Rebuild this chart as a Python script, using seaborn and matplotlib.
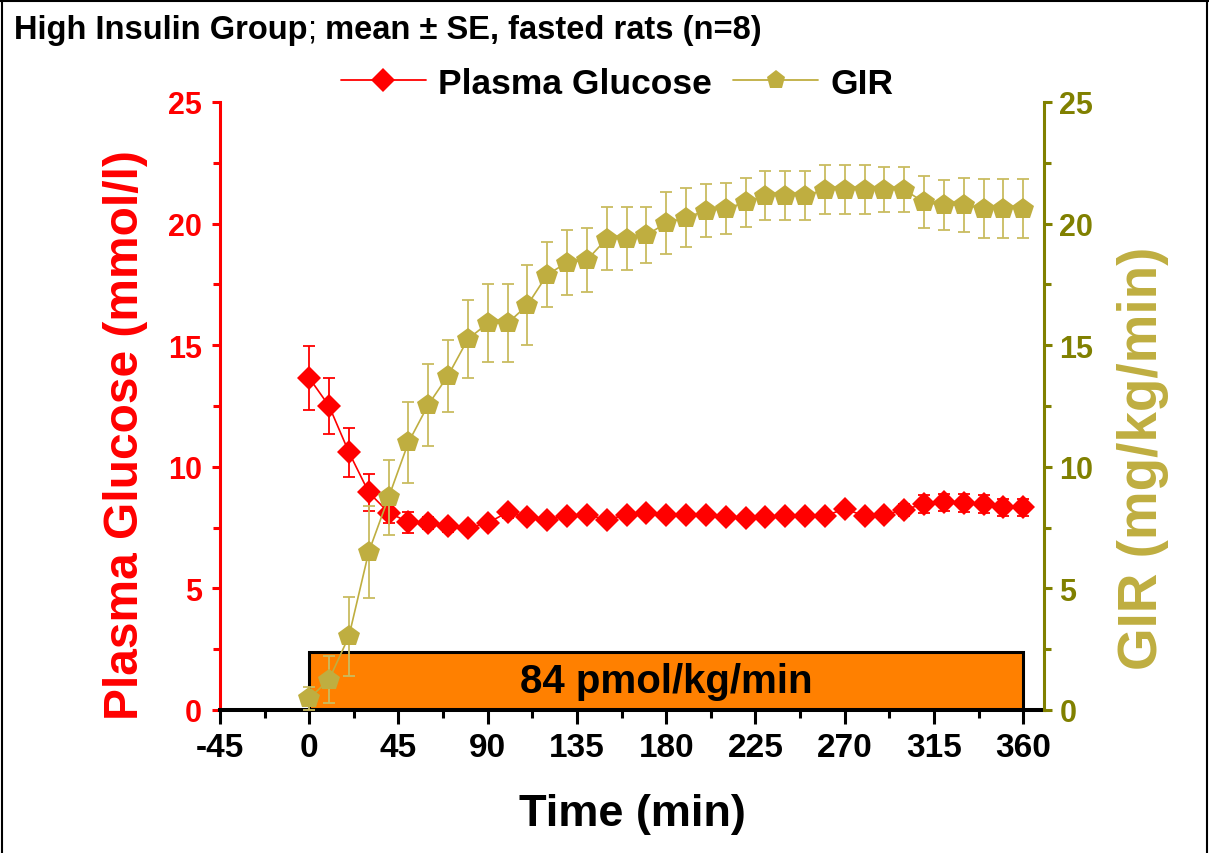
import matplotlib
matplotlib.use("Agg")
import matplotlib.pyplot as plt
import pandas as pd
import seaborn as sns
from matplotlib.patches import Rectangle
from matplotlib.lines import Line2D
from matplotlib.ticker import MultipleLocator

# ---- data -----------------------------------------------------------------
time_min = [0, 10, 20, 30, 40, 50, 60, 70, 80, 90, 100, 110, 120, 130, 140,
            150, 160, 170, 180, 190, 200, 210, 220, 230, 240, 250, 260, 270,
            280, 290, 300, 310, 320, 330, 340, 350, 360]

glucose = [13.65, 12.50, 10.60, 8.95, 8.12, 7.72, 7.69, 7.55, 7.48, 7.69,
           8.13, 7.92, 7.83, 7.99, 8.02, 7.83, 8.02, 8.09, 8.02, 8.02, 8.02,
           7.92, 7.88, 7.92, 7.99, 7.99, 7.99, 8.26, 7.99, 8.02, 8.24, 8.47,
           8.54, 8.51, 8.47, 8.33, 8.33]
glucose_se = [1.30, 1.15, 1.00, 0.77, 0.45, 0.44, 0.25, 0.22, 0.22, 0.22,
              0.22, 0.20, 0.20, 0.20, 0.20, 0.20, 0.20, 0.20, 0.20, 0.20,
              0.20, 0.20, 0.20, 0.20, 0.20, 0.20, 0.20, 0.20, 0.20, 0.20,
              0.25, 0.35, 0.36, 0.36, 0.35, 0.35, 0.35]

gir = [0.48, 1.25, 3.03, 6.50, 8.74, 11.00, 12.55, 13.75, 15.25, 15.90,
       15.90, 16.65, 17.90, 18.40, 18.50, 19.38, 19.38, 19.53, 20.02, 20.25,
       20.53, 20.62, 20.87, 21.15, 21.15, 21.15, 21.40, 21.40, 21.40, 21.40,
       21.40, 20.87, 20.76, 20.76, 20.62, 20.62, 20.62]
gir_se = [0.48, 0.97, 1.63, 1.88, 1.56, 1.68, 1.68, 1.48, 1.60, 1.60,
          1.60, 1.65, 1.33, 1.33, 1.30, 1.30, 1.30, 1.17, 1.27, 1.20,
          1.10, 1.05, 1.00, 1.00, 1.00, 1.00, 1.00, 1.00, 1.00, 0.92,
          0.92, 1.07, 1.04, 1.12, 1.22, 1.22, 1.22]

x_ticks = [-45, 0, 45, 90, 135, 180, 225, 270, 315, 360]
y_ticks = [0, 5, 10, 15, 20, 25]

infusion_start = 0
infusion_end = 360
infusion_height = 2.4
infusion_label = "84 pmol/kg/min"

title_parts = ["High Insulin Group", ";", " mean \u00b1 SE, fasted rats (n=8)"]

# ---- style ----------------------------------------------------------------
sns.set_theme(style="ticks")
plt.rcParams["font.family"] = ["Liberation Sans", "DejaVu Sans"]
plt.rcParams["font.weight"] = "bold"
plt.rcParams["text.color"] = "black"
plt.rcParams["axes.labelcolor"] = "black"
plt.rcParams["xtick.color"] = "black"
plt.rcParams["ytick.color"] = "black"
plt.rcParams["axes.unicode_minus"] = False

RED = "#FF0000"
OLIVE = "#808000"
GIR_C = "#BFAE40"
GIR_ERR = "#C9BC60"
FONT = ["Liberation Sans", "DejaVu Sans"]

W, H = 1209, 854
fig = plt.figure(figsize=(W / 100, H / 100), dpi=100)
fig.patch.set_facecolor("white")

ax = fig.add_axes([220 / W, (H - 711) / H, (1044 - 220) / W, (711 - 103) / H])
ax2 = ax.twinx()

df = pd.DataFrame({"time": time_min, "glucose": glucose, "gir": gir})

# insulin infusion bar
ax.add_patch(Rectangle((infusion_start, 0), infusion_end - infusion_start,
                       infusion_height, facecolor="#FF8000",
                       edgecolor="black", linewidth=2.2, zorder=1))
ax.text((infusion_start + infusion_end) / 2, infusion_height / 2,
        infusion_label, ha="center", va="center", fontsize=29,
        fontweight="bold", family=FONT, color="black", zorder=2)

# plasma glucose
ax.errorbar(time_min, glucose, yerr=glucose_se, fmt="none", ecolor=RED,
            elinewidth=1.3, capsize=4.5, capthick=1.3, zorder=3)
sns.lineplot(data=df, x="time", y="glucose", ax=ax, color=RED, marker="D",
             markersize=12, markeredgewidth=0, linewidth=1.2,
             legend=False, zorder=4)

# glucose infusion rate
ax2.errorbar(time_min, gir, yerr=gir_se, fmt="none", ecolor=GIR_ERR,
             elinewidth=1.3, capsize=4.5, capthick=1.3, zorder=3)
sns.lineplot(data=df, x="time", y="gir", ax=ax2, color=GIR_C, marker="p",
             markersize=16, markeredgewidth=0, linewidth=1.2,
             legend=False, zorder=4)

# ---- axes -----------------------------------------------------------------
ax.set_xlim(-45, 370.5)
ax.set_ylim(0, 25)
ax2.set_ylim(0, 25)
ax.set_xticks(x_ticks)
ax.xaxis.set_minor_locator(MultipleLocator(22.5))
ax.set_yticks(y_ticks)
ax2.set_yticks(y_ticks)
ax.yaxis.set_minor_locator(MultipleLocator(2.5))
ax2.yaxis.set_minor_locator(MultipleLocator(2.5))
ax.set_xlabel("")
ax.set_ylabel("")
ax2.set_ylabel("")

for s in ["top", "right"]:
    ax.spines[s].set_visible(False)
for s in ["top", "left", "bottom"]:
    ax2.spines[s].set_visible(False)
ax.spines["left"].set_color(RED)
ax.spines["left"].set_linewidth(2.2)
ax.spines["bottom"].set_color("black")
ax.spines["bottom"].set_linewidth(2.9)
ax2.spines["right"].set_color(OLIVE)
ax2.spines["right"].set_linewidth(2.2)

ax.tick_params(axis="x", which="major", direction="out", length=10,
               width=2.2, color="black", labelcolor="black", labelsize=24,
               pad=6)
ax.tick_params(axis="x", which="minor", direction="out", length=5.5,
               width=2.2, color="black")
ax.tick_params(axis="y", which="major", direction="out", length=6,
               width=2.2, color=RED, labelcolor=RED, labelsize=22, pad=7)
ax.tick_params(axis="y", which="minor", direction="out", length=5,
               width=2.2, color=RED)
ax2.tick_params(axis="y", which="major", direction="out", length=6,
                width=2.2, color=OLIVE, labelcolor=OLIVE, labelsize=22, pad=5)
ax2.tick_params(axis="y", which="minor", direction="out", length=5,
                width=2.2, color=OLIVE)

for lab in ax.get_xticklabels() + ax.get_yticklabels() + ax2.get_yticklabels():
    lab.set_fontweight("bold")

# ---- labels ---------------------------------------------------------------
fig.text(126 / W, 1 - 435 / H, "Plasma Glucose (mmol/l)", rotation=90,
         ha="center", va="center", color=RED, fontsize=34.5,
         fontweight="bold")
fig.text(1143 / W, 1 - 458 / H, "GIR (mg/kg/min)", rotation=90,
         ha="center", va="center", color=GIR_C, fontsize=39.5,
         fontweight="bold")
fig.text(632 / W, 1 - 815 / H, "Time (min)", ha="center", va="center",
         fontsize=32.5, fontweight="bold", color="black")

# legend
handles = [
    Line2D([], [], color=RED, marker="D", markersize=12,
           markeredgewidth=0, linewidth=1.3),
    Line2D([], [], color=GIR_C, marker="p", markersize=14,
           markeredgewidth=0, linewidth=1.3),
]
leg = fig.legend(handles, ["Plasma Glucose", "GIR"], loc="center",
                 bbox_to_anchor=(617 / W, 1 - 84 / H), ncol=2,
                 frameon=False,
                 prop={"family": FONT, "weight": "bold", "size": 25.5},
                 handlelength=2.4, handletextpad=0.35, columnspacing=0.6)
for txt in leg.get_texts():
    txt.set_color("black")

# title built from pieces so the semicolon stays in regular weight
renderer = fig.canvas.get_renderer()
x_px = 14
weights = ["bold", "normal", "bold"]
for part, wt in zip(title_parts, weights):
    t = fig.text(x_px / W, 1 - 30 / H, part, ha="left", va="center",
                 fontsize=23.5, fontweight=wt, family=FONT, color="black")
    bb = t.get_window_extent(renderer=renderer)
    x_px = bb.x1

# figure frame
for xs, ys in [([2 / W, 2 / W], [0, 1]), ([1207 / W, 1207 / W], [0, 1]),
               ([0, 1], [1 - 1.5 / H, 1 - 1.5 / H])]:
    fig.add_artist(Line2D(xs, ys, transform=fig.transFigure, color="black",
                          linewidth=1.5))

fig.savefig("out.png", dpi=100, facecolor="white")
